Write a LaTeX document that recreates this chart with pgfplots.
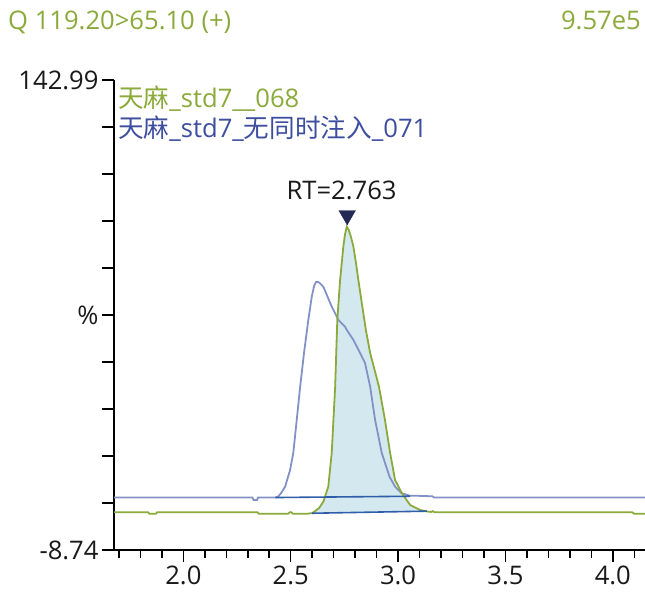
\documentclass[border=0pt]{standalone}
\usepackage{pgfplots}
\pgfplotsset{compat=1.18}
\usepackage{fontspec}
\setmainfont{Open Sans}
\newfontfamily\cjk{Noto Sans CJK SC}
\definecolor{gr}{HTML}{8BAA3B}
\definecolor{bt}{HTML}{8392C6}
\definecolor{btext}{HTML}{3E4E9E}
\definecolor{intl}{HTML}{2F5DAA}
\definecolor{fillc}{HTML}{D3E9EF}
\definecolor{navy}{HTML}{252A55}
\begin{document}
\begin{tikzpicture}[font=\fontsize{25.7}{30}\selectfont]
\useasboundingbox (0,0) rectangle (645bp,594bp);
\node[anchor=base west, text=gr, inner sep=0pt] at (8bp,564bp) {Q 119.20>65.10 (+)};
\node[anchor=base east, text=gr, inner sep=0pt] at (641bp,564bp) {9.57e5};
\begin{axis}[at={(114bp,44bp)}, anchor=south west, scale only axis,
  width=531bp, height=470bp,
  xmin=1.677, xmax=4.15, ymin=-8.74, ymax=142.99,
  axis lines=left, axis line style={-, line width=1.5bp, black},
  xtick={2.0,2.5,3.0,3.5,4.0}, xticklabels={2.0,2.5,3.0,3.5,4.0},
  minor xtick={1.7,1.8,1.9,2.1,2.2,2.3,2.4,2.6,2.7,2.8,2.9,3.1,3.2,3.3,3.4,3.6,3.7,3.8,3.9,4.1},
  ytick={-8.74,6.433,21.606,36.779,51.952,67.125,82.298,97.471,112.644,127.817,142.99},
  yticklabels={-8.74,,,,,\%,,,,,142.99},
  tick align=outside, major tick length=12bp, minor tick length=8bp,
  tick style={black, line width=1.5bp},
  ticklabel style={font=\fontsize{25.7}{30}\selectfont, text=black!90},
  clip=false,
]
% fill under green peak
\addplot[fill=fillc, draw=none] coordinates {
 (2.599,3.12) (2.613,3.8) (2.632,4.8) (2.652,6.87) (2.675,11.71) (2.691,22.59) (2.707,44.0)
 (2.717,65.52) (2.730,78.43) (2.745,89.18) (2.753,93.2) (2.761,95.64) (2.770,94.6) (2.780,92.5)
 (2.792,89.18) (2.804,83.92) (2.815,78.43) (2.838,67.78) (2.850,62.29) (2.870,54.87) (2.911,44.0)
 (2.939,33.24) (2.963,22.59) (2.986,13.87) (3.017,9.68) (3.056,5.80) (3.102,4.19) (3.134,3.80)
} -- cycle;
% blue trace
\addplot[bt, line width=1.8bp] coordinates {
 (1.677,8.2) (2.322,8.2) (2.327,7.4) (2.343,7.4) (2.348,8.2) (2.429,8.2) (2.441,8.49) (2.455,9.6)
 (2.474,11.71) (2.497,17.10) (2.512,22.59) (2.528,33.24) (2.544,44.0) (2.562,54.87) (2.582,65.52)
 (2.598,73.04) (2.609,76.5) (2.617,77.7) (2.624,77.88) (2.632,77.6) (2.652,76.27) (2.691,69.81)
 (2.722,65.52) (2.753,63.36) (2.761,62.29) (2.792,59.06) (2.823,54.87) (2.846,51.64) (2.870,44.0)
 (2.893,33.24) (2.924,22.59) (2.960,14.94) (2.986,11.71) (3.017,9.58) (3.056,8.75) (3.07,8.8)
 (3.16,8.6) (3.168,8.2) (4.15,8.2)
};
% green trace
\addplot[gr, line width=1.8bp] coordinates {
 (1.677,3.45) (1.836,3.45) (1.842,2.95) (1.872,2.95) (1.878,3.45) (2.345,3.45) (2.352,2.95)
 (2.488,2.95) (2.495,3.45) (2.503,3.45) (2.510,2.95) (2.578,2.95) (2.590,3.1) (2.599,3.12)
 (2.613,3.8) (2.632,4.8) (2.652,6.87) (2.675,11.71) (2.691,22.59) (2.707,44.0)
 (2.717,65.52) (2.730,78.43) (2.745,89.18) (2.753,93.2) (2.761,95.64) (2.770,94.6) (2.780,92.5)
 (2.792,89.18) (2.804,83.92) (2.815,78.43) (2.838,67.78) (2.850,62.29) (2.870,54.87) (2.911,44.0)
 (2.939,33.24) (2.963,22.59) (2.986,13.87) (3.017,9.68) (3.056,5.80) (3.102,4.19) (3.134,3.70)
 (3.155,3.55) (3.162,3.8) (3.170,3.45) (4.090,3.45) (4.100,2.95) (4.150,2.95)
};
% integration baselines
\addplot[intl, line width=1.6bp] coordinates {(2.429,8.2) (3.056,8.61)};
\addplot[intl, line width=1.6bp] coordinates {(2.599,3.12) (3.134,3.80)};
% RT marker
\addplot[only marks, mark=triangle*, mark size=9.6bp, color=navy, mark options={rotate=180, fill=navy}] coordinates {(2.763,99.3)};
\node[anchor=base, inner sep=0pt, text=black!90] at (axis cs:2.737,104.26) {RT=2.763};
\end{axis}
\node[anchor=base west, text=gr, inner sep=0pt] at (118bp,486bp) {{\cjk 天麻}\_std7\_\_068};
\node[anchor=base west, text=btext, inner sep=0pt] at (118bp,456bp) {{\cjk 天麻}\_std7\_{\cjk 无同时注入}\_071};
\end{tikzpicture}
\end{document}
